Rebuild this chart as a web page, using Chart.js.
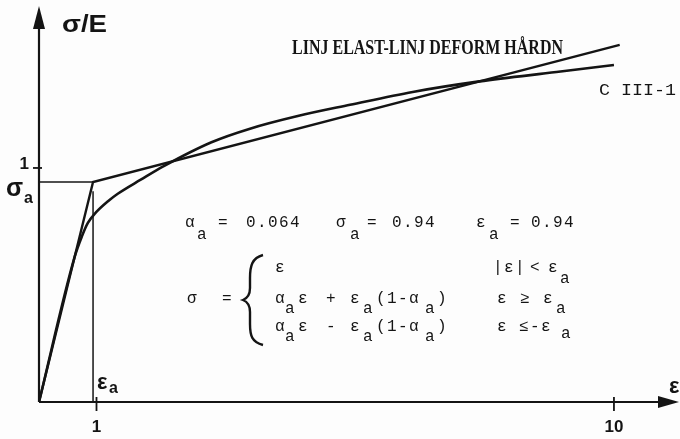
<!DOCTYPE html>
<html>
<head>
<meta charset="utf-8">
<script src="https://cdn.jsdelivr.net/npm/chart.js@4.4.1/dist/chart.umd.min.js"></script>
<style>
    html, body { margin: 0; padding: 0; background: #fdfdfd; }
    #wrap { width: 680px; height: 439px; }
</style>
</head>
<body>
<div id="wrap"><canvas id="stressChart" width="680" height="439"></canvas></div>
<script>
// Material parameters
const alphaA = 0.064;
const sigmaA = 0.94;
const epsA = 0.94;

// Measured curve C III-1
const curveStrain = [0, 0.62, 0.75, 0.85, 0.99, 1.2, 1.37, 1.77, 2.17, 3.0, 3.67, 4.5, 5.41, 6.5, 7.66, 9.0, 10.0];
const curveStress = [0, 0.62, 0.71, 0.765, 0.81, 0.858, 0.89, 0.95, 1.008, 1.11, 1.168, 1.222, 1.27, 1.325, 1.37, 1.41, 1.44];

// Bilinear fit: elastic up to epsA, then slope alphaA
const bilinStrain = [0, epsA, 10.1];
const bilinStress = [0, sigmaA, 1.526];

// Axis ticks
const xTicks = [1, 10];
const yTicks = [1];

const ink = '#141414';

const toPoints = (xs, ys) => xs.map((x, i) => ({ x: x, y: ys[i] }));

// Formula block, typewriter style: [text, x, baseline]
const formula = [
    ['α', 185, 227], ['a', 197, 239], ['=', 218, 227], ['0.064', 246, 227],
    ['σ', 336, 227], ['a', 350, 239], ['=', 367, 227], ['0.94', 392, 227],
    ['ε', 476, 227], ['a', 489, 239], ['=', 510, 227], ['0.94', 531, 227],

    ['ε', 275, 272], ['|ε|', 493, 272], ['<', 530, 272], ['ε', 548, 272], ['a', 560, 283],

    ['σ', 187, 303], ['=', 222, 303],
    ['α', 275, 303], ['a', 285, 313], ['ε', 298, 303], ['+', 326, 303],
    ['ε', 350, 303], ['a', 363, 313], ['(1-α', 376, 303], ['a', 425, 313], [')', 437, 303],
    ['ε', 497, 303], ['≥', 520, 303], ['ε', 543, 303], ['a', 556, 313],

    ['α', 275, 331], ['a', 285, 341], ['ε', 298, 331], ['-', 326, 331],
    ['ε', 350, 331], ['a', 363, 341], ['(1-α', 376, 331], ['a', 425, 341], [')', 437, 331],
    ['ε', 497, 331], ['≤-ε', 519, 331], ['a', 561, 338]
];

function fitText(ctx, text, x, y, width) {
    const w = ctx.measureText(text).width;
    ctx.save();
    ctx.translate(x, y);
    ctx.scale(width / w, 1);
    ctx.fillText(text, 0, 0);
    ctx.restore();
}

const annotations = {
    id: 'annotations',
    afterDatasetsDraw(chart) {
        const ctx = chart.ctx;
        const xs = chart.scales.x;
        const ys = chart.scales.y;
        const x0 = xs.getPixelForValue(0);
        const y0 = ys.getPixelForValue(0);

        ctx.save();
        ctx.strokeStyle = ink;
        ctx.fillStyle = ink;
        ctx.lineWidth = 2.2;

        // axes with arrow heads
        ctx.beginPath();
        ctx.moveTo(x0, y0);
        ctx.lineTo(660, y0);
        ctx.moveTo(x0, y0);
        ctx.lineTo(x0, 28);
        ctx.stroke();

        ctx.beginPath();
        ctx.moveTo(679, y0);
        ctx.lineTo(658, y0 - 6);
        ctx.lineTo(658, y0 + 6);
        ctx.closePath();
        ctx.fill();

        ctx.beginPath();
        ctx.moveTo(x0, 6);
        ctx.lineTo(x0 - 6, 29);
        ctx.lineTo(x0 + 6, 29);
        ctx.closePath();
        ctx.fill();

        // tick marks and labels
        ctx.lineWidth = 1.8;
        ctx.font = 'bold 17px "Liberation Sans"';
        ctx.textAlign = 'center';
        xTicks.forEach(t => {
            const px = xs.getPixelForValue(t);
            ctx.beginPath();
            ctx.moveTo(px, y0 - 5);
            ctx.lineTo(px, y0 + 9);
            ctx.stroke();
            ctx.fillText(String(t), px, y0 + 30);
        });
        ctx.textAlign = 'right';
        yTicks.forEach(t => {
            const py = ys.getPixelForValue(t);
            ctx.beginPath();
            ctx.moveTo(x0 - 6, py);
            ctx.lineTo(x0 + 3, py);
            ctx.stroke();
            ctx.fillText(String(t), x0 - 10, py + 1);
        });

        // axis names
        ctx.textAlign = 'left';
        ctx.font = 'bold 24px "Liberation Sans"';
        fitText(ctx, 'σ/E', 62, 32, 45);
        ctx.font = 'bold 22px "Liberation Sans"';
        ctx.fillText('ε', 669, 393);

        ctx.font = 'bold 25px "Liberation Sans"';
        ctx.fillText('σ', 6, 196);
        ctx.font = 'bold 16px "Liberation Sans"';
        ctx.fillText('a', 24, 203);

        ctx.font = 'bold 22px "Liberation Sans"';
        ctx.fillText('ε', 97, 389);
        ctx.font = 'bold 16px "Liberation Sans"';
        ctx.fillText('a', 109, 393);

        // curve names
        ctx.font = 'bold 20px "Liberation Serif"';
        fitText(ctx, 'LINJ ELAST-LINJ DEFORM HÅRDN', 292, 54, 271);
        ctx.font = '17px "Liberation Mono"';
        fitText(ctx, 'C III-1', 599, 95, 77);

        // formula
        ctx.font = '16px "Liberation Mono"';
        ctx.letterSpacing = '1.4px';
        formula.forEach(([text, x, y]) => ctx.fillText(text, x, y));
        ctx.letterSpacing = '0px';

        // brace
        ctx.lineWidth = 2.4;
        ctx.beginPath();
        ctx.moveTo(263, 255);
        ctx.bezierCurveTo(252, 258, 250, 266, 250, 278);
        ctx.lineTo(250, 288);
        ctx.bezierCurveTo(250, 294, 248, 298, 243, 300);
        ctx.bezierCurveTo(248, 302, 250, 306, 250, 312);
        ctx.lineTo(250, 324);
        ctx.bezierCurveTo(250, 336, 252, 342, 263, 345);
        ctx.stroke();

        ctx.restore();
    }
};

document.addEventListener('DOMContentLoaded', () => {
    const ctx = document.getElementById('stressChart').getContext('2d');
    const chart = new Chart(ctx, {
        type: 'scatter',
        data: {
            datasets: [
                {
                    label: 'C III-1',
                    data: toPoints(curveStrain, curveStress),
                    showLine: true,
                    cubicInterpolationMode: 'monotone',
                    borderColor: ink,
                    borderWidth: 2.6,
                    pointRadius: 0
                },
                {
                    label: 'LINJ ELAST-LINJ DEFORM HÅRDN',
                    data: toPoints(bilinStrain, bilinStress),
                    showLine: true,
                    borderColor: ink,
                    borderWidth: 2.4,
                    pointRadius: 0
                },
                {
                    label: 'sigma_a',
                    data: [{ x: 0, y: sigmaA }, { x: epsA, y: sigmaA }],
                    showLine: true,
                    borderColor: ink,
                    borderWidth: 1.6,
                    pointRadius: 0
                },
                {
                    label: 'eps_a',
                    data: [{ x: epsA, y: 0 }, { x: epsA, y: 0.9 }],
                    showLine: true,
                    borderColor: ink,
                    borderWidth: 1.5,
                    pointRadius: 0
                }
            ]
        },
        options: {
            responsive: false,
            animation: false,
            layout: { padding: { left: 39, right: 12, top: 10, bottom: 37 } },
            plugins: {
                legend: { display: false },
                tooltip: { enabled: false }
            },
            scales: {
                x: { type: 'linear', min: 0, max: 10.94, display: false },
                y: { type: 'linear', min: 0, max: 1.675, display: false }
            }
        },
        plugins: [annotations]
    });
});
</script>
</body>
</html>
